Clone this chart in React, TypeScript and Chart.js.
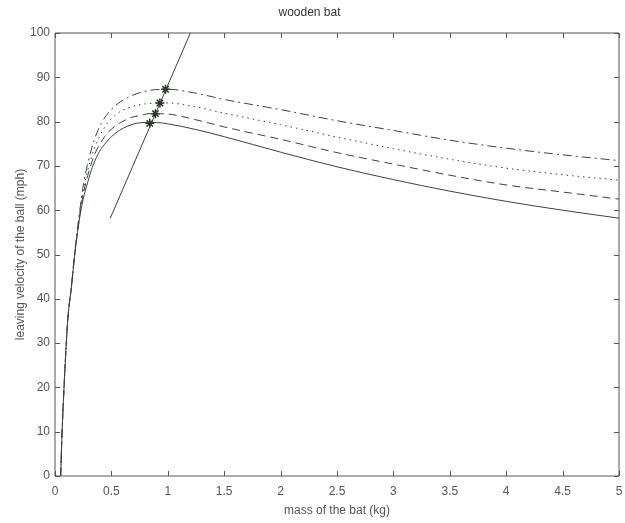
import React, { useEffect, useRef } from "react";
import { Chart, registerables } from "chart.js";

Chart.register(...registerables);

const titleText = "wooden bat";
const xTitle = "mass of the bat (kg)";
const yTitle = "leaving velocity of the ball (mph)";

// curve 1 (solid)
const solidX = [0.05, 0.063, 0.08, 0.098, 0.114, 0.145, 0.173, 0.2, 0.225, 0.25, 0.29, 0.33, 0.38, 0.44, 0.5, 0.57, 0.647, 0.72, 0.8, 0.9, 1.0, 1.25, 1.5, 2, 2.5, 3, 3.5, 4, 4.5, 5];
const solidY = [0, 10, 20, 29, 35.6, 42.5, 49.5, 55, 59.3, 62.5, 66.3, 69.6, 72.6, 74.9, 76.6, 78, 79, 79.6, 79.8, 79.8, 79.5, 78.2, 76.6, 73.1, 69.8, 66.9, 64.3, 62, 60, 58.2];
// curve 2 (dashed)
const dashedX = [0.05, 0.063, 0.08, 0.098, 0.114, 0.145, 0.173, 0.2, 0.225, 0.25, 0.29, 0.35, 0.44, 0.51, 0.59, 0.66, 0.735, 0.85, 1.0, 1.25, 1.5, 2, 2.5, 3, 3.5, 4, 4.5, 5];
const dashedY = [0, 10, 20, 29, 35.6, 42.5, 49.5, 55.2, 59.8, 63.5, 67.8, 72.5, 76.6, 78.5, 79.9, 80.8, 81.3, 81.8, 81.7, 80.4, 78.8, 76, 73, 70.4, 67.9, 65.7, 64.1, 62.5];
// curve 3 (dotted)
const dottedX = [0.05, 0.063, 0.08, 0.098, 0.114, 0.145, 0.173, 0.2, 0.225, 0.25, 0.29, 0.35, 0.44, 0.53, 0.65, 0.8, 1.0, 1.25, 1.5, 2, 2.5, 3, 3.5, 4, 4.5, 5];
const dottedY = [0, 10, 20, 29, 35.6, 42.6, 49.7, 55.5, 60.4, 64.5, 69, 74, 78.7, 81.4, 83.1, 84, 84.2, 83.3, 81.9, 79.3, 76.5, 73.9, 71.5, 69.5, 68, 66.8];
// curve 4 (dash-dot)
const dashDotX = [0.05, 0.063, 0.08, 0.098, 0.114, 0.145, 0.173, 0.2, 0.225, 0.25, 0.29, 0.35, 0.41, 0.48, 0.56, 0.65, 0.735, 0.85, 1.0, 1.25, 1.5, 2, 2.5, 3, 3.5, 4, 4.5, 5];
const dashDotY = [0, 10, 20, 29, 35.7, 42.8, 50, 56, 61, 65.5, 70.5, 76, 79.6, 82.2, 84.1, 85.5, 86.4, 87.1, 87.3, 86.4, 85, 82.7, 80.2, 78, 75.8, 74, 72.5, 71.2];
// straight line through the maxima
const lineX = [0.49, 1.2];
const lineY = [58.2, 100];
// star markers
const starX = [0.84, 0.89, 0.93, 0.98];
const starY = [79.6, 81.8, 84.2, 87.3];

const xTicks = [0, 0.5, 1, 1.5, 2, 2.5, 3, 3.5, 4, 4.5, 5];
const yTicks = [0, 10, 20, 30, 40, 50, 60, 70, 80, 90, 100];

const LINE = "#3a443a";
const TEXT = "#555555";
const FONT = "'Liberation Sans', Arial, sans-serif";

const zip = (xs: number[], ys: number[]) => xs.map((x, i) => ({ x, y: ys[i] }));

const boxTicks = {
  id: "boxTicks",
  afterDatasetsDraw(chart: any) {
    const { ctx, chartArea: a, scales } = chart;
    ctx.save();
    ctx.strokeStyle = "#555";
    ctx.lineWidth = 1;
    ctx.beginPath();
    ctx.rect(a.left, a.top, a.right - a.left, a.bottom - a.top);
    ctx.stroke();
    const len = 5;
    ctx.beginPath();
    for (const v of xTicks) {
      const p = Math.round(scales.x.getPixelForValue(v)) + 0.5;
      ctx.moveTo(p, a.bottom);
      ctx.lineTo(p, a.bottom - len);
      ctx.moveTo(p, a.top);
      ctx.lineTo(p, a.top + len);
    }
    for (const v of yTicks) {
      const p = Math.round(scales.y.getPixelForValue(v)) + 0.5;
      ctx.moveTo(a.left, p);
      ctx.lineTo(a.left + len, p);
      ctx.moveTo(a.right, p);
      ctx.lineTo(a.right - len, p);
    }
    ctx.stroke();
    ctx.restore();
  },
};

export default function App() {
  const ref = useRef<HTMLCanvasElement | null>(null);
  useEffect(() => {
    if (!ref.current) return;
    const common = { showLine: true, pointRadius: 0, borderColor: LINE, borderWidth: 1, fill: false, cubicInterpolationMode: "monotone" as const };
    const chart = new Chart(ref.current, {
      type: "scatter",
      data: {
        datasets: [
          { ...common, data: zip(solidX, solidY) },
          { ...common, data: zip(dashedX, dashedY), borderDash: [8, 5] },
          { ...common, data: zip(dottedX, dottedY), borderDash: [1.5, 4] },
          { ...common, data: zip(dashDotX, dashDotY), borderDash: [9, 4, 2, 4] },
          { showLine: true, pointRadius: 0, borderColor: LINE, borderWidth: 1, tension: 0, data: zip(lineX, lineY) },
          { showLine: false, pointStyle: "star", pointRadius: 4.5, borderColor: "#223022", borderWidth: 1.5, backgroundColor: "#223022", data: zip(starX, starY) },
        ] as any,
      },
      options: {
        animation: false,
        responsive: false,
        maintainAspectRatio: false,
        events: [],
        layout: { padding: { left: 0, right: 6, top: 0, bottom: 0 } },
        plugins: {
          legend: { display: false },
          tooltip: { enabled: false },
          title: {
            display: true,
            text: titleText,
            color: "#333",
            font: { family: FONT, size: 12, weight: "normal" },
            padding: { top: 5, bottom: 13.6 },
          },
        },
        scales: {
          x: {
            type: "linear",
            min: 0,
            max: 5,
            afterFit: (s: any) => { s.height = 47; s.paddingRight = 0; s.paddingLeft = 0; },
            afterBuildTicks: (s: any) => { s.ticks = xTicks.map((v) => ({ value: v })); },
            grid: { display: false, drawTicks: false },
            border: { display: false },
            ticks: { color: TEXT, padding: 8, maxRotation: 0, autoSkip: false, font: { family: FONT, size: 12 }, callback: (v: any) => String(v) },
            title: { display: true, text: xTitle, color: TEXT, font: { family: FONT, size: 12 }, padding: { top: 2, bottom: 5 } },
          },
          y: {
            type: "linear",
            min: 0,
            max: 100,
            afterFit: (s: any) => { s.width = 55; s.paddingTop = 0; s.paddingBottom = 0; },
            afterBuildTicks: (s: any) => { s.ticks = yTicks.map((v) => ({ value: v })); },
            grid: { display: false, drawTicks: false },
            border: { display: false },
            ticks: { color: TEXT, padding: 5, autoSkip: false, font: { family: FONT, size: 12 }, callback: (v: any) => String(v) },
            title: { display: true, text: yTitle, color: TEXT, font: { family: FONT, size: 12 }, padding: { top: 13, bottom: 0 } },
          },
        },
      } as any,
      plugins: [boxTicks],
    });
    return () => chart.destroy();
  }, []);
  return (
    <div style={{ position: "fixed", left: 0, top: 0, width: 625, height: 523, background: "#fff" }}>
      <canvas ref={ref} width={625} height={523} style={{ width: 625, height: 523, display: "block" }} />
    </div>
  );
}
